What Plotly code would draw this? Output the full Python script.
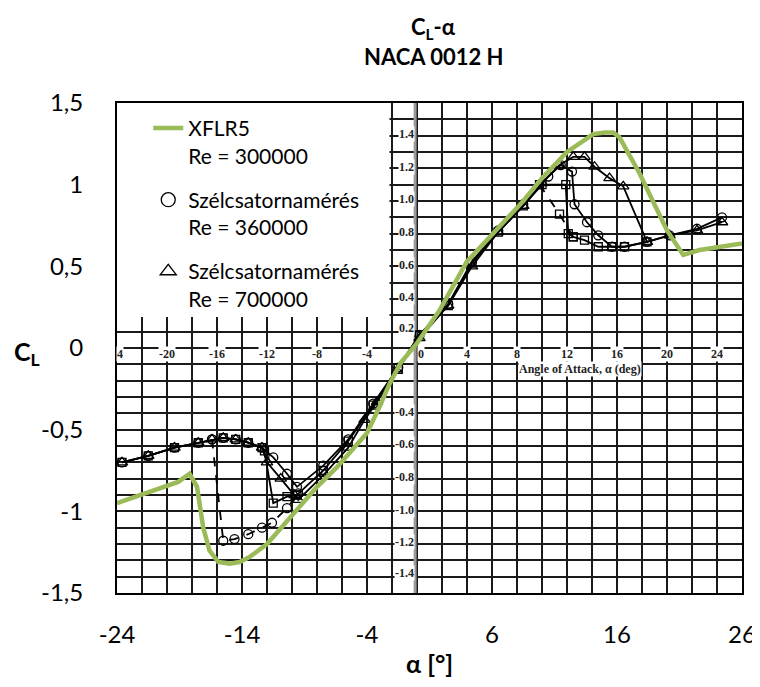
import plotly.graph_objects as go

# ---------------- data ----------------
# XFLR5, Re = 300000
alpha_xflr = [-24, -21, -19.1, -18.2, -17.6, -17.1, -16.6, -15.9, -15.0, -14.2, -13.4, -12, -10.4, -8,
              -6.4, -4, -3, -2.2, -1.3, 0, 1.8, 2.9, 4, 4.5, 6.6, 8.5, 10, 12, 14.1, 15.0, 15.7, 16.2,
              17.8, 20, 21.3, 22.6, 26]
cl_xflr = [-0.95, -0.87, -0.82, -0.77, -0.85, -1.10, -1.24, -1.31, -1.32, -1.31, -1.28, -1.20, -1.06, -0.85,
           -0.73, -0.52, -0.36, -0.22, -0.09, 0.03, 0.23, 0.38, 0.53, 0.57, 0.74, 0.90, 1.04, 1.20, 1.31, 1.32,
           1.32, 1.29, 1.07, 0.72, 0.57, 0.60, 0.64]

# wind tunnel, Re = 360000 (circles)
alpha_c = [-23.6, -21.5, -19.4, -17.5, -16.4, -15.5, -14.5, -13.5, -12.4, -11.5, -10.4, -9.6, -7.5, -5.5,
           -3.5, -1.5, 0.2, 2.5, 4.4, 6.5, 8.5, 10.5, 11.5, 12.4, 12.6, 13.6, 14.5, 15.6, 16.6, 18.4, 20.2,
           22.4, 24.4]
cl_c = [-0.70, -0.66, -0.61, -0.58, -0.56, -0.55, -0.56, -0.58, -0.61, -0.67, -0.77, -0.85, -0.72, -0.56,
        -0.34, -0.12, 0.08, 0.27, 0.53, 0.72, 0.88, 1.05, 1.12, 1.08, 0.88, 0.77, 0.69, 0.62, 0.62, 0.65, 0.69,
        0.73, 0.80]

# wind tunnel, Re = 700000 (triangles)
alpha_t = [-23.6, -21.5, -19.4, -17.5, -16.4, -15.5, -14.5, -13.5, -12.4, -12.0, -10.9, -9.8, -9.5, -7.4,
           -5.5, -4.2, -3.2, -1.6, 0.2, 2.5, 4.4, 6.5, 8.5, 10.0, 11.4, 12.5, 13.4, 14.2, 15.4, 16.5, 18.4,
           20.2, 22.4, 24.4]
cl_t = [-0.70, -0.66, -0.61, -0.58, -0.56, -0.55, -0.56, -0.58, -0.61, -0.70, -0.80, -0.90, -0.93, -0.77,
        -0.61, -0.44, -0.33, -0.14, 0.06, 0.26, 0.50, 0.71, 0.87, 1.01, 1.12, 1.17, 1.17, 1.11, 1.04, 0.99, 0.65,
        0.69, 0.72, 0.77]

# further scanned series (squares)
alpha_s = [-23.6, -21.5, -19.4, -17.5, -15.5, -14.5, -13.5, -12.4, -12.2, -11.5, -10.4, -9.6, -7.5, -5.5,
           -3.5, -1.5, 0.2, 2.5, 4.4, 6.5, 8.5, 10.0, 11.9, 12.1, 12.5, 13.4, 14.5, 15.6, 16.6, 18.4]
cl_s = [-0.70, -0.66, -0.61, -0.58, -0.55, -0.56, -0.58, -0.61, -0.63, -0.95, -0.91, -0.90, -0.75, -0.57,
        -0.35, -0.12, 0.08, 0.26, 0.52, 0.71, 0.87, 1.00, 1.00, 0.70, 0.68, 0.66, 0.62, 0.62, 0.62, 0.65]

# hysteresis branches (dashed)
alpha_dn = [-16.4, -15.5, -14.6, -13.5, -12.4, -11.6, -10.4, -9.5]
cl_dn = [-0.56, -1.18, -1.17, -1.14, -1.10, -1.07, -0.98, -0.89]
alpha_dp = [9.8, 11.4, 12.5]
cl_dp = [1.00, 0.82, 0.68]

# scanned-chart labels
scan_cl_pos = [1.31, 1.11, 0.91, 0.71, 0.51, 0.31, 0.12]
scan_cl_pos_txt = ["1.4", "1.2", "1.0", "0.8", "0.6", "0.4", "0.2"]
scan_cl_neg = [-0.39, -0.585, -0.79, -0.99, -1.185, -1.38]
scan_cl_neg_txt = ["-0.4", "-0.6", "-0.8", "-1.0", "-1.2", "-1.4"]
scan_alpha = [-23.75, -20, -16, -12, -8, -4, 0.3, 4, 8, 12, 16, 20, 24]
scan_alpha_txt = ["4", "-20", "-16", "-12", "-8", "-4", "0", "4", "8", "12", "16", "20", "24"]

x_ticks = [-24, -14, -4, 6, 16, 26]
x_ticktext = ["-24", "-14", "-4", "6", "16", "26"]
y_ticks = [-1.5, -1, -0.5, 0, 0.5, 1, 1.5]
y_ticktext = ["-1,5", "-1", "-0,5", "0", "0,5", "1", "1,5"]

# ---------------- figure ----------------
FONT = "Lato"
fig = go.Figure()

def mk(sym, size=7):
    return dict(symbol=sym, size=size, color="black", line=dict(width=1.3, color="black"))

fig.add_trace(go.Scatter(x=alpha_s, y=cl_s, mode="lines+markers", line=dict(color="black", width=1.8),
                         marker=mk("square-open", 8), showlegend=False))
fig.add_trace(go.Scatter(x=alpha_t, y=cl_t, mode="lines+markers", line=dict(color="black", width=1.8),
                         marker=mk("triangle-up-open", 10), showlegend=False))
fig.add_trace(go.Scatter(x=alpha_c, y=cl_c, mode="lines+markers", line=dict(color="black", width=1.8),
                         marker=mk("circle-open", 9), showlegend=False))
fig.add_trace(go.Scatter(x=alpha_dn, y=cl_dn, mode="lines+markers",
                         line=dict(color="black", width=1.8, dash="dash"),
                         marker=mk("circle-open", 9), showlegend=False))
fig.add_trace(go.Scatter(x=alpha_dp, y=cl_dp, mode="lines+markers",
                         line=dict(color="black", width=1.8, dash="dash"),
                         marker=mk("square-open", 8), showlegend=False))
fig.add_trace(go.Scatter(x=alpha_xflr, y=cl_xflr, mode="lines", line=dict(color="#9BBB59", width=4.5),
                         showlegend=False))

# legend entries
fig.add_trace(go.Scatter(x=[None], y=[None], mode="lines", line=dict(color="#9BBB59", width=4.5),
                         name="XFLR5<br>Re = 300000", legendgroup="a"))
fig.add_trace(go.Scatter(x=[None], y=[None], mode="markers", marker=mk("circle-open", 14),
                         name="Szélcsatornamérés<br>Re = 360000", legendgroup="b"))
fig.add_trace(go.Scatter(x=[None], y=[None], mode="markers", marker=mk("triangle-up-open", 14),
                         name="Szélcsatornamérés<br>Re = 700000", legendgroup="c"))

GRID = "#1a1a1a"
# the page body adds an 8px offset; sizes compensate so the plot area sits at x 117-742, y 103-593
fig.update_layout(
    width=760, height=671,
    margin=dict(l=109, r=26, t=95, b=86, autoexpand=False),
    paper_bgcolor="white", plot_bgcolor="white",
    font=dict(family=FONT, color="black"),
    showlegend=True,
    legend=dict(x=0.05, y=0.99, xanchor="left", yanchor="top", bgcolor="rgba(0,0,0,0)",
                font=dict(family=FONT, size=21, color="black"), valign="top",
                tracegroupgap=14, traceorder="grouped"),
    xaxis=dict(range=[-24, 26], tickvals=x_ticks, ticktext=x_ticktext, showgrid=True,
               gridcolor=GRID, gridwidth=2, automargin=False, ticklabeloverflow="allow",
               minor=dict(tick0=-24, dtick=2, showgrid=True, gridcolor=GRID, gridwidth=2),
               showline=True, linecolor="black", linewidth=2, mirror=True, zeroline=False,
               ticks="", ticklabelstandoff=19, tickfont=dict(family=FONT, size=24, color="black")),
    yaxis=dict(range=[-1.5, 1.5], tickvals=y_ticks, ticktext=y_ticktext, showgrid=True,
               gridcolor=GRID, gridwidth=2, automargin=False,
               minor=dict(tick0=0, dtick=0.1, showgrid=True, gridcolor=GRID, gridwidth=2),
               showline=True, linecolor="black", linewidth=2, mirror=True, zeroline=False,
               ticks="", ticklabelstandoff=27, tickfont=dict(family=FONT, size=24, color="black")),
)

# white legend area and grey zero line from the scan
fig.add_shape(type="rect", x0=-24, x1=-2.2, y0=0.19, y1=1.5, xref="x", yref="y",
              fillcolor="white", line=dict(width=0), layer="between")
fig.add_shape(type="line", x0=-0.15, x1=-0.15, y0=-1.5, y1=1.5, xref="x", yref="y",
              line=dict(color="#9a9a9a", width=3), layer="between")

ann = []
SF = dict(family="Liberation Serif", size=12, color="#222")
def lab(x, y, t, **kw):
    d = dict(x=x, y=y, xref="x", yref="y", text="<b>%s</b>" % t, showarrow=False, font=SF,
             bgcolor="white", borderpad=0, xanchor="center", yanchor="middle")
    d.update(kw)
    return d
for v, t in zip(scan_cl_pos, scan_cl_pos_txt):
    ann.append(lab(-0.85, v, t))
for v, t in zip(scan_cl_neg, scan_cl_neg_txt):
    ann.append(lab(-1.0, v, t))
for v, t in zip(scan_alpha, scan_alpha_txt):
    ann.append(lab(v, -0.035, t))
ann.append(lab(13, -0.13, "Angle of Attack, α (deg)"))

# titles
def ptxt(x, y, t, size):
    return dict(x=x, y=y, xref="paper", yref="paper", text=t, showarrow=False,
                xanchor="center", yanchor="middle", font=dict(family=FONT, size=size, color="black"))
ann.append(ptxt(0.507, 1.153, "<b>C<sub>L</sub>-α</b>", 22))
ann.append(ptxt(0.507, 1.094, "<b>NACA 0012 H</b>", 22))
ann.append(ptxt(-0.144, 0.49, "<b>C<sub>L</sub></b>", 25))
ann.append(ptxt(0.5, -0.143, "<b>α [°]</b>", 25))
fig.update_layout(annotations=ann)

fig.write_html("out.html")
